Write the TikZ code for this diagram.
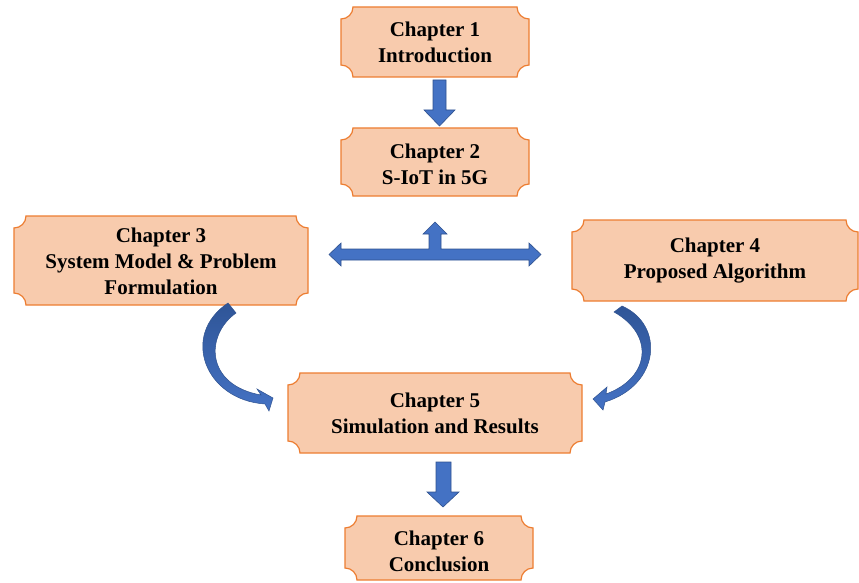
\documentclass[tikz,border=0pt]{standalone}
\usepackage{fontspec}
\setmainfont{Liberation Serif}
\definecolor{boxfill}{HTML}{F8CBAD}
\definecolor{boxline}{HTML}{ED7D31}
\definecolor{arrfill}{HTML}{4472C4}
\definecolor{arrline}{HTML}{2F528F}
\definecolor{arrdark}{HTML}{2F5597}
\def\rr{12}
\newcommand\plq[4]{\draw[plaque] (#1+\rr,-#2) -- (#3-\rr,-#2) arc[start angle=180,end angle=270,radius=\rr] -- (#3,-#4+\rr) arc[start angle=90,end angle=180,radius=\rr] -- (#1+\rr,-#4) arc[start angle=0,end angle=90,radius=\rr] -- (#1,-#2-\rr) arc[start angle=270,end angle=360,radius=\rr] -- cycle;}
\tikzset{
  plaque/.style={fill=boxfill,draw=boxline,line width=1.2pt},
  txt/.style={align=center,font=\fontsize{21}{26}\selectfont\bfseries,inner sep=0pt},
  blockarrow/.style={fill=arrfill,draw=arrline,line width=0.6pt,line join=miter},
  curvearrow/.style={top color=arrdark,bottom color=arrfill,draw=arrline,line width=0.5pt}
}
\begin{document}
\begin{tikzpicture}[x=1pt,y=1pt]
\useasboundingbox (0,0) rectangle (859,-583);
% boxes
\plq{341}{7}{529}{77}
\plq{341}{128}{529}{196}
\plq{14}{216}{308}{305}
\plq{572}{220}{858}{301}
\plq{288}{373}{582}{453}
\plq{345}{516}{533}{580}
\node[txt] (b1) at (435,-42) {Chapter 1\\Introduction};
\node[txt] (b2) at (435,-164) {Chapter 2\\S-IoT in 5G};
\node[txt] (b3) at (161,-261) {Chapter 3\\System Model \& Problem\\Formulation};
\node[txt] (b4) at (715,-261) {Chapter 4\\Proposed Algorithm};
\node[txt] (b5) at (435,-413) {Chapter 5\\Simulation and Results};
\node[txt] (b6) at (439,-551) {Chapter 6\\Conclusion};
% straight block arrows
\draw[blockarrow] (433,-80) -- (446,-80) -- (446,-110) -- (455,-110) -- (439.5,-126) -- (424,-110) -- (433,-110) -- cycle;
\draw[blockarrow] (436,-462) -- (451,-462) -- (451,-492) -- (459,-492) -- (443,-507) -- (427,-492) -- (436,-492) -- cycle;
% T-shaped double arrow
\draw[blockarrow] (329,-254.5) -- (341,-243) -- (341,-249) -- (429,-249) -- (429,-234) -- (423,-234) -- (435,-222) -- (447,-234) -- (441,-234) -- (441,-249) -- (529,-249) -- (529,-243) -- (541,-254.5) -- (529,-266) -- (529,-260) -- (341,-260) -- (341,-266) -- cycle;
% curved arrows
\draw[curvearrow] (228,-303) -- (236,-313) .. controls (205,-335) and (205,-385) .. (261,-395) -- (257,-389) -- (273,-398) -- (269,-411) -- (265,-404) .. controls (205,-400) and (180,-335) .. (228,-303) -- cycle;
\draw[curvearrow] (614,-312) -- (622,-306) .. controls (665,-325) and (660,-385) .. (605,-402) -- (603,-410) -- (593,-399) -- (607,-387) -- (606,-394) .. controls (650,-378) and (655,-335) .. (614,-312) -- cycle;
\end{tikzpicture}
\end{document}
